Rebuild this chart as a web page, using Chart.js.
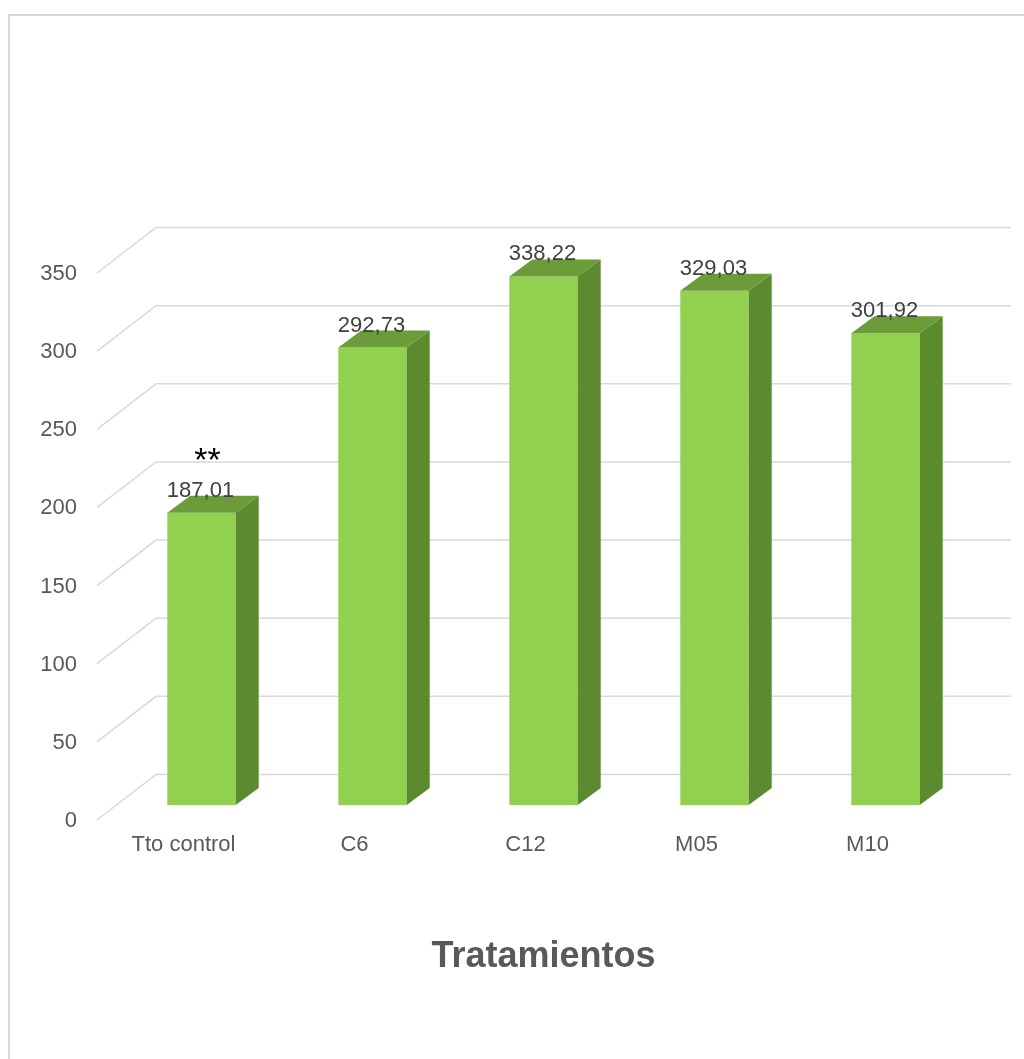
<!DOCTYPE html>
<html>
<head>
<meta charset="utf-8">
<script src="https://cdn.jsdelivr.net/npm/chart.js@4/dist/chart.umd.min.js"></script>
<style>
  html, body { margin: 0; padding: 0; background: #fff; }
  #grafico { display: block; }
</style>
</head>
<body>
<canvas id="grafico" width="1024" height="1059"></canvas>
<script>
// datos del gráfico
const categorias = ["Tto control", "C6", "C12", "M05", "M10"];
const valores = [187.01, 292.73, 338.22, 329.03, 301.92];
const marcas = ["**", "", "", "", ""];
const ejeMin = 0;
const ejeMax = 350;
const ejePaso = 50;

const fuente = '"Liberation Sans", Arial, sans-serif';
const colorFrente = "#92D050";
const colorTapa = "#6C9C3A";
const colorLado = "#5C8A2F";

// profundidad de cada barra y del piso
const prof = { dx: 23, dy: -17 };
const piso = { frenteX: -19, frenteY: 15, fondoX: 40, fondoY: -30.5 };

const efecto3d = {
  id: "efecto3d",
  beforeDraw(chart) {
    const ctx = chart.ctx;
    ctx.save();
    ctx.fillStyle = "#fff";
    ctx.fillRect(0, 0, chart.width, chart.height);
    // marco exterior
    ctx.strokeStyle = "#d9d9d9";
    ctx.lineWidth = 2;
    ctx.beginPath();
    ctx.moveTo(9, chart.height);
    ctx.lineTo(9, 15);
    ctx.lineTo(chart.width, 15);
    ctx.stroke();
    ctx.restore();
  },
  beforeDatasetsDraw(chart) {
    const ctx = chart.ctx;
    const area = chart.chartArea;
    const y = chart.scales.y;
    ctx.save();
    ctx.strokeStyle = "#d9d9d9";
    ctx.lineWidth = 1.5;
    y.ticks.forEach((t) => {
      const py = y.getPixelForValue(t.value);
      ctx.beginPath();
      ctx.moveTo(area.left + piso.frenteX, py + piso.frenteY);
      ctx.lineTo(area.left + piso.fondoX, py + piso.fondoY);
      ctx.lineTo(area.right + piso.fondoX, py + piso.fondoY);
      ctx.stroke();
    });
    ctx.restore();
  },
  afterDatasetsDraw(chart) {
    const ctx = chart.ctx;
    const meta = chart.getDatasetMeta(0);
    ctx.save();
    meta.data.forEach((bar) => {
      const izq = bar.x - bar.width / 2;
      const der = bar.x + bar.width / 2;
      // cara lateral
      ctx.fillStyle = colorLado;
      ctx.beginPath();
      ctx.moveTo(der, bar.y);
      ctx.lineTo(der + prof.dx, bar.y + prof.dy);
      ctx.lineTo(der + prof.dx, bar.base + prof.dy);
      ctx.lineTo(der, bar.base);
      ctx.closePath();
      ctx.fill();
      // cara superior
      ctx.fillStyle = colorTapa;
      ctx.beginPath();
      ctx.moveTo(izq, bar.y);
      ctx.lineTo(izq + prof.dx, bar.y + prof.dy);
      ctx.lineTo(der + prof.dx, bar.y + prof.dy);
      ctx.lineTo(der, bar.y);
      ctx.closePath();
      ctx.fill();
    });
    ctx.restore();
  },
  afterDraw(chart) {
    const ctx = chart.ctx;
    const meta = chart.getDatasetMeta(0);
    ctx.save();
    ctx.textAlign = "center";
    ctx.textBaseline = "alphabetic";
    meta.data.forEach((bar, i) => {
      ctx.fillStyle = "#404040";
      ctx.font = "22px " + fuente;
      ctx.fillText(valores[i].toFixed(2).replace(".", ","), bar.x - 1, bar.y - 16);
      if (marcas[i]) {
        ctx.fillStyle = "#000";
        ctx.font = "34px " + fuente;
        ctx.fillText(marcas[i], bar.x + 6, bar.y - 42);
      }
    });
    ctx.restore();
  }
};

const canvas = document.getElementById("grafico");

new Chart(canvas, {
  type: "bar",
  data: {
    labels: categorias,
    datasets: [
      {
        label: "Tratamientos",
        data: valores,
        backgroundColor: colorFrente,
        borderWidth: 0,
        barPercentage: 0.8,
        categoryPercentage: 0.5
      }
    ]
  },
  options: {
    responsive: false,
    animation: false,
    devicePixelRatio: 1,
    layout: {
      padding: { top: 258, right: 53, bottom: 0, left: 0 }
    },
    plugins: {
      legend: { display: false },
      tooltip: { enabled: false }
    },
    scales: {
      x: {
        grid: { display: false, drawTicks: false },
        border: { display: false },
        ticks: {
          color: "#595959",
          font: { family: fuente, size: 22 },
          padding: 27,
          labelOffset: -18,
          maxRotation: 0
        },
        title: {
          display: true,
          text: "Tratamientos",
          color: "#595959",
          font: { family: fuente, size: 36, weight: "bold", lineHeight: 1.2 },
          padding: { top: 0, bottom: 80 }
        },
        afterFit(scale) {
          scale.height = 254;
        }
      },
      y: {
        min: ejeMin,
        max: ejeMax,
        grid: { display: false, drawTicks: false },
        border: { display: false },
        ticks: {
          stepSize: ejePaso,
          color: "#595959",
          font: { family: fuente, size: 22 },
          padding: 39,
          labelOffset: 16
        },
        afterFit(scale) {
          scale.width = 116;
        }
      }
    }
  },
  plugins: [efecto3d]
});
</script>
</body>
</html>
